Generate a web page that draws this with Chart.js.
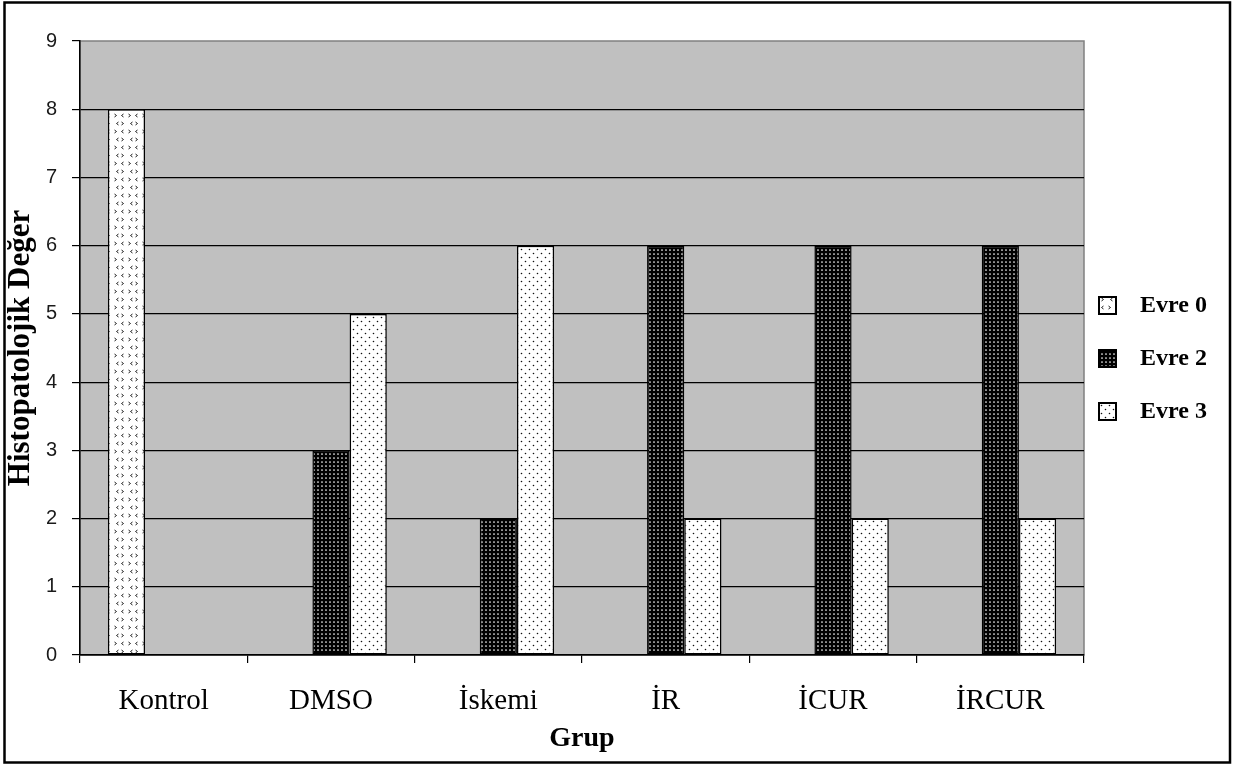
<!DOCTYPE html>
<html lang="tr">
<head>
<meta charset="utf-8">
<title>Histopatolojik Değer</title>
<script src="https://cdn.jsdelivr.net/npm/chart.js@4.4.1/dist/chart.umd.min.js"></script>
<style>
  html, body { margin: 0; padding: 0; background: #fff; }
  canvas { display: block; }
</style>
</head>
<body>
<canvas id="chart" width="1244" height="765"></canvas>
<script>
// Groups and the three histopathological stages
const categories = ['Kontrol', 'DMSO', 'İskemi', 'İR', 'İCUR', 'İRCUR'];
const seriesNames = ['Evre 0', 'Evre 2', 'Evre 3'];
const evre0 = [8, 0, 0, 0, 0, 0];
const evre2 = [0, 3, 2, 6, 6, 6];
const evre3 = [0, 5, 6, 2, 2, 2];
const yTicks = [0, 1, 2, 3, 4, 5, 6, 7, 8, 9];
const yTitle = 'Histopatolojik Değer';
const xTitle = 'Grup';

const SERIF = '"Liberation Serif", "Times New Roman", serif';
const SANS = '"Liberation Sans", Arial, sans-serif';

const canvas = document.getElementById('chart');
const mainCtx = canvas.getContext('2d');

// Small repeating tiles used as bar fills
function makePattern(w, h, bg, paint) {
  const c = document.createElement('canvas');
  c.width = w; c.height = h;
  const g = c.getContext('2d');
  g.fillStyle = bg;
  g.fillRect(0, 0, w, h);
  paint(g);
  return mainCtx.createPattern(c, 'repeat');
}

// white with small chevrons
const chevronFill = makePattern(14, 16, '#ffffff', g => {
  g.strokeStyle = '#222';
  g.lineWidth = 1;
  g.beginPath();
  g.moveTo(2.5, 2); g.lineTo(4.5, 3.5); g.lineTo(2.5, 5);
  g.moveTo(11.5, 2); g.lineTo(9.5, 3.5); g.lineTo(11.5, 5);
  g.moveTo(6.5, 10); g.lineTo(4.5, 11.5); g.lineTo(6.5, 13);
  g.moveTo(9.5, 10); g.lineTo(11.5, 11.5); g.lineTo(9.5, 13);
  g.stroke();
});

// black with dense white dots
const darkDotFill = makePattern(4, 4, '#000000', g => {
  g.fillStyle = '#ffffff';
  g.beginPath();
  g.arc(2, 2, 0.85, 0, Math.PI * 2);
  g.fill();
});

// white with sparse black dots
const lightDotFill = makePattern(8, 8, '#ffffff', g => {
  g.fillStyle = '#111';
  g.beginPath();
  g.arc(1.5, 1.5, 0.8, 0, Math.PI * 2);
  g.arc(5.5, 5.5, 0.8, 0, Math.PI * 2);
  g.fill();
});

// legend width, so the plot area ends where the legend begins
const LEGEND_FONT = { family: SERIF, size: 24, weight: 'bold' };
const LEGEND_PAD = 29;
const LEGEND_BOX = 17;
const legendLabel = name => '  ' + name;
const measureCtx = document.createElement('canvas').getContext('2d');
measureCtx.font = 'bold 24px ' + SERIF;
const legendTextW = Math.max(...seriesNames.map(n => measureCtx.measureText(legendLabel(n)).width));
const legendW = LEGEND_PAD + LEGEND_BOX + LEGEND_FONT.size / 2 + legendTextW + 10;
const rightPad = Math.max(0, 1244 - 1084 - legendW);

// grey plot area with a thin darker outline
const plotBackground = {
  id: 'plotBackground',
  beforeDraw(chart) {
    const { ctx, chartArea: a } = chart;
    ctx.save();
    ctx.fillStyle = '#c0c0c0';
    ctx.fillRect(a.left, a.top, a.right - a.left, a.bottom - a.top);
    ctx.strokeStyle = '#808080';
    ctx.lineWidth = 1.5;
    ctx.strokeRect(a.left, a.top, a.right - a.left, a.bottom - a.top);
    ctx.restore();
  }
};

// legend block sits a little left of and below its default slot
const legendOffset = {
  id: 'legendOffset',
  afterLayout(chart) {
    const l = chart.legend;
    if (!l) return;
    l.left -= 14; l.right -= 14;
    l.top += 10.5; l.bottom += 10.5;
  }
};

// outer frame round the whole figure
const outerFrame = {
  id: 'outerFrame',
  afterDraw(chart) {
    const ctx = chart.ctx;
    ctx.save();
    ctx.strokeStyle = '#000';
    ctx.lineWidth = 2.5;
    ctx.strokeRect(4.5, 2.5, 1225.5, 760);
    ctx.restore();
  }
};

const fills = [chevronFill, darkDotFill, lightDotFill];
const values = [evre0, evre2, evre3];

new Chart(canvas, {
  type: 'bar',
  data: {
    labels: categories,
    datasets: seriesNames.map((name, i) => ({
      label: name,
      data: values[i],
      backgroundColor: fills[i],
      borderColor: '#000',
      borderWidth: 1.5,
      borderSkipped: false,
      categoryPercentage: 0.667,
      barPercentage: 1.0
    }))
  },
  options: {
    responsive: false,
    animation: false,
    events: [],
    layout: { padding: { top: 41, left: 0, right: rightPad, bottom: 7 } },
    scales: {
      x: {
        offset: true,
        border: { display: true, color: '#000', width: 1.5 },
        grid: {
          display: true, offset: true, drawOnChartArea: false, drawTicks: true,
          tickLength: 8, color: '#000', lineWidth: 1.2
        },
        ticks: {
          color: '#000', padding: 21, maxRotation: 0, autoSkip: false,
          font: { family: SERIF, size: 29 }
        },
        title: {
          display: true, text: xTitle, color: '#000',
          font: { family: SERIF, size: 28, weight: 'bold' },
          padding: { top: 0, bottom: 2 }
        },
        afterFit(scale) { scale.height = 103; }
      },
      y: {
        min: yTicks[0],
        max: yTicks[yTicks.length - 1],
        border: { display: true, color: '#000', width: 1.5 },
        grid: {
          color: c => (c.tick && c.tick.value === yTicks[yTicks.length - 1]) ? 'rgba(0,0,0,0)' : '#000',
          tickColor: '#000', lineWidth: 1.2, tickWidth: 1.2, tickLength: 8, drawTicks: true
        },
        ticks: {
          stepSize: 1, color: '#1a1a1a', padding: 15,
          font: { family: SANS, size: 20 }
        },
        title: {
          display: true, text: yTitle, color: '#000',
          font: { family: SERIF, size: 31, weight: 'bold' },
          padding: { top: 2, bottom: 0 }
        },
        afterFit(scale) { scale.width = 80; }
      }
    },
    plugins: {
      tooltip: { enabled: false },
      legend: {
        display: true,
        position: 'right',
        align: 'center',
        fullSize: false,
        labels: {
          boxWidth: LEGEND_BOX, boxHeight: LEGEND_BOX, padding: LEGEND_PAD,
          color: '#000', font: LEGEND_FONT,
          generateLabels(chart) {
            const items = Chart.defaults.plugins.legend.labels.generateLabels(chart);
            items.forEach(it => { it.text = legendLabel(it.text); it.lineWidth = 2; });
            return items;
          }
        }
      }
    }
  },
  plugins: [plotBackground, legendOffset, outerFrame]
});
</script>
</body>
</html>
